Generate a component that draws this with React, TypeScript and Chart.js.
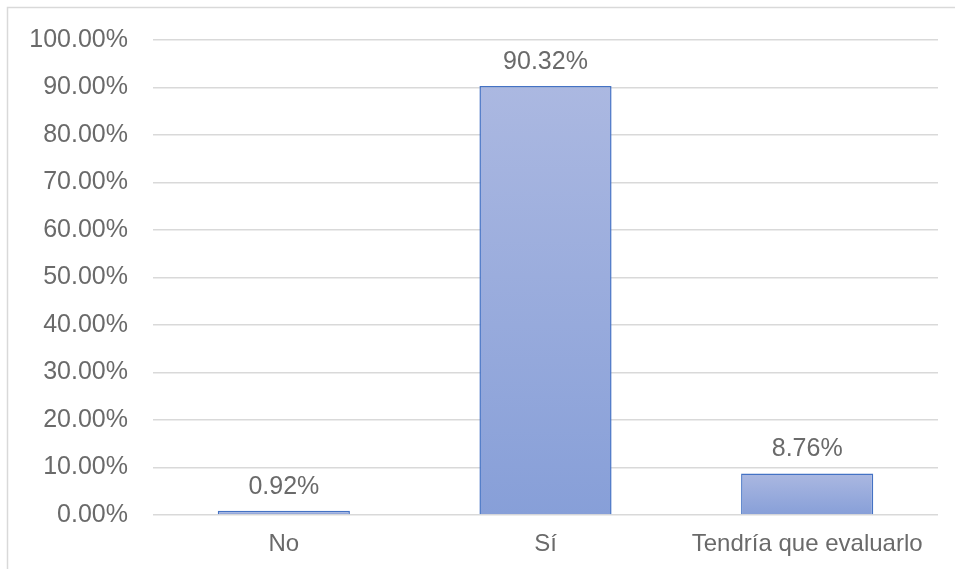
import React, { useEffect, useRef } from "react";
import { Chart, registerables } from "chart.js";

Chart.register(...registerables);

// Survey answers and their share of responses (percent)
const categories = ["No", "Sí", "Tendría que evaluarlo"];
const shares = [0.92, 90.32, 8.76];

// Value axis range
const axisMin = 0;
const axisMax = 100;
const axisStep = 10;

const textColor = "#6a6a6a";
const gridColor = "#d9d9d9";
const barBorder = "#4472c4";
const barTop = "#abb8e1";
const barBottom = "#879fd8";
const fontFamily = "'Liberation Sans', Arial, sans-serif";

const pct = (v: number) => `${Number(v).toFixed(2)}%`;

// White page with a thin frame along the top and left edges
const framePlugin = {
  id: "frame",
  beforeDraw(chart: any) {
    const { ctx, width, height } = chart;
    ctx.save();
    ctx.fillStyle = "#ffffff";
    ctx.fillRect(0, 0, width, height);
    ctx.strokeStyle = gridColor;
    ctx.lineWidth = 1.5;
    ctx.beginPath();
    ctx.moveTo(7.5, height + 2);
    ctx.lineTo(7.5, 7.5);
    ctx.lineTo(width + 2, 7.5);
    ctx.stroke();
    ctx.restore();
  },
};

// Percentage written above each bar
const valueLabelPlugin = {
  id: "valueLabels",
  afterDatasetsDraw(chart: any) {
    const { ctx } = chart;
    const meta = chart.getDatasetMeta(0);
    ctx.save();
    ctx.fillStyle = textColor;
    ctx.font = `25px ${fontFamily}`;
    ctx.textAlign = "center";
    ctx.textBaseline = "alphabetic";
    meta.data.forEach((bar: any, i: number) => {
      ctx.fillText(pct(shares[i]), bar.x, bar.y - 17);
    });
    ctx.restore();
  },
};

export default function App() {
  const canvasRef = useRef<HTMLCanvasElement | null>(null);

  useEffect(() => {
    const canvas = canvasRef.current;
    if (!canvas) return;

    const chart = new Chart(canvas, {
      type: "bar",
      data: {
        labels: categories,
        datasets: [
          {
            data: shares,
            backgroundColor: (c: any) => {
              const chartObj = c.chart;
              const y = chartObj.scales?.y;
              if (!y || c.dataIndex === undefined) return barBottom;
              const top = y.getPixelForValue(shares[c.dataIndex]);
              const base = y.getPixelForValue(0);
              if (!isFinite(top) || !isFinite(base) || top === base) return barBottom;
              const g = chartObj.ctx.createLinearGradient(0, top, 0, base);
              g.addColorStop(0, barTop);
              g.addColorStop(1, barBottom);
              return g;
            },
            borderColor: barBorder,
            borderWidth: 1.5,
            borderSkipped: "start",
            categoryPercentage: 1,
            barPercentage: 0.505,
          },
        ],
      },
      options: {
        animation: false,
        responsive: true,
        maintainAspectRatio: false,
        layout: { padding: { top: 36, right: 17, left: 0, bottom: 0 } },
        plugins: {
          legend: { display: false },
          tooltip: { enabled: false },
        },
        scales: {
          x: {
            grid: { display: false, drawTicks: false },
            border: { display: false },
            ticks: {
              color: textColor,
              font: { family: fontFamily, size: 24 },
              padding: 15,
              maxRotation: 0,
              autoSkip: false,
            },
            afterFit: (scale: any) => {
              scale.height = 54;
            },
          },
          y: {
            min: axisMin,
            max: axisMax,
            grid: { color: gridColor, lineWidth: 1.5, drawTicks: false },
            border: { display: false },
            ticks: {
              stepSize: axisStep,
              color: textColor,
              font: { family: fontFamily, size: 25 },
              padding: 25,
              callback: (v: any) => pct(v),
            },
            afterFit: (scale: any) => {
              scale.width = 153;
            },
          },
        },
      },
      plugins: [framePlugin, valueLabelPlugin],
    });

    return () => chart.destroy();
  }, []);

  return (
    <div style={{ position: "fixed", left: 0, top: 0, width: 955, height: 569 }}>
      <canvas ref={canvasRef} />
    </div>
  );
}
